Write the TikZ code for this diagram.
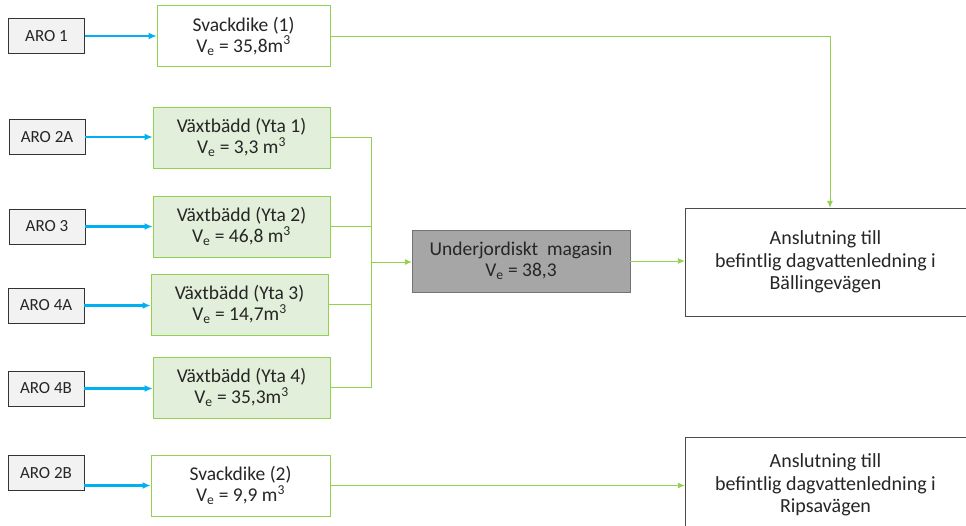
\documentclass[tikz,border=0pt]{standalone}
\usepackage{fontspec}
\setmainfont{Carlito}
\usepackage{xcolor}
\usetikzlibrary{arrows.meta,calc,positioning}

\definecolor{inflow}{HTML}{00B0F0}
\definecolor{leafline}{HTML}{92D050}
\definecolor{leaffill}{HTML}{E2EFDA}
\definecolor{arofill}{HTML}{F2F2F2}
\definecolor{tankfill}{HTML}{A6A6A6}

\begin{document}
\begin{tikzpicture}[
    x=1pt, y=-1pt,
    every node/.style={font=\fontsize{19.5}{21}\selectfont, text=black!85, align=center, inner sep=0pt},
    aro/.style={draw=black!80, fill=arofill, minimum width=76pt, minimum height=35pt,
        font=\fontsize{17}{20}\selectfont},
    swale/.style={draw=leafline, fill=white, thick, minimum height=61pt},
    bed/.style={draw=leafline, fill=leaffill, thick, minimum width=177pt, minimum height=61pt},
    tank/.style={draw=black!55, fill=tankfill, minimum width=218pt, minimum height=62pt},
    outlet/.style={draw=black!70, fill=white, minimum width=281pt, font=\fontsize{20}{22.5}\selectfont},
    feed/.style={-{Latex[length=8pt,width=7pt]}, inflow, line width=2.2pt},
    flow/.style={-{Latex[length=7pt,width=6pt]}, leafline, line width=0.9pt},
    pipe/.style={leafline, line width=0.9pt}
]
    \useasboundingbox (0,0) rectangle (966,526);

    % inflow areas
    \node[aro] (aro1) at (46.5,36) {ARO 1};
    \node[aro] (aro2a) at (47,137) {ARO 2A};
    \node[aro] (aro3) at (47,226.5) {ARO 3};
    \node[aro] (aro4a) at (46,305.5) {ARO 4A};
    \node[aro] (aro4b) at (46,388.5) {ARO 4B};
    \node[aro] (aro2b) at (46,473) {ARO 2B};

    % retention
    \node[swale, minimum width=173pt] (svack1) at (243.5,36) {Svackdike (1)\\V\textsubscript{e} = 35,8m\textsuperscript{3}};
    \node[bed] (vb1) at (241.5,137.5) {Växtbädd (Yta 1)\\V\textsubscript{e} = 3,3 m\textsuperscript{3}};
    \node[bed] (vb2) at (241.5,226.5) {Växtbädd (Yta 2)\\V\textsubscript{e} = 46,8 m\textsuperscript{3}};
    \node[bed] (vb3) at (239.5,304.5) {Växtbädd (Yta 3)\\V\textsubscript{e} = 14,7m\textsuperscript{3}};
    \node[bed] (vb4) at (241.5,387.5) {Växtbädd (Yta 4)\\V\textsubscript{e} = 35,3m\textsuperscript{3}};
    \node[swale, minimum width=179pt] (svack2) at (240.5,485.5) {Svackdike (2)\\V\textsubscript{e} = 9,9 m\textsuperscript{3}};
    \node[tank] (tank) at (521,261) {Underjordiskt\ \ magasin\\V\textsubscript{e} = 38,3};

    % outlets
    \node[outlet, minimum height=108pt] (utlB) at (825.5,262) {Anslutning till\\befintlig dagvattenledning i\\Bällingevägen};
    \node[outlet, minimum height=96pt, anchor=north] (utlR) at (825.5,437) {Anslutning till\\befintlig dagvattenledning i\\Ripsavägen};
    \coordinate (bus) at (371,262);

    \draw[feed] (aro1.east) -- (svack1.west |- aro1.east);
    \draw[feed] (aro2a.east) -- (vb1.west |- aro2a.east);
    \draw[feed] (aro3.east) -- (vb2.west |- aro3.east);
    \draw[feed] (aro4a.east) -- (vb3.west |- aro4a.east);
    \draw[feed] (aro4b.east) -- (vb4.west |- aro4b.east);
    \draw[feed] (aro2b.east |- svack2.west) -- (svack2.west);

    \draw[pipe] (vb1.east) -| (bus);
    \draw[pipe] (vb4.east) -| (bus);
    \draw[pipe] (vb2.east) -- (vb2.east -| bus);
    \draw[pipe] (vb3.east) -- (vb3.east -| bus);
    \draw[flow] (bus) -- (tank.west |- bus);
    \draw[flow] (tank.east) -- (utlB.west |- tank.east);
    \draw[flow] (svack1.east) -| ([xshift=4.5pt]utlB.north);
    \draw[flow] (svack2.east) -- (utlR.west |- svack2.east);
\end{tikzpicture}
\end{document}
